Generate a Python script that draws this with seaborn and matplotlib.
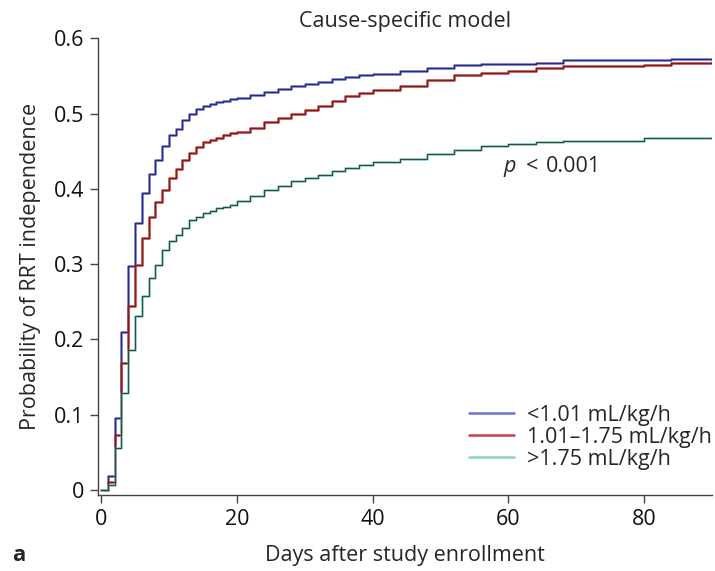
import pandas as pd
import seaborn as sns
import matplotlib.pyplot as plt

# Days after enrollment (step points) and cumulative probability per group
days = list(range(0, 21)) + list(range(22, 41, 2)) + list(range(44, 85, 4)) + [90]

low_uo = [0, 0.018, 0.096, 0.21, 0.297, 0.355, 0.394, 0.42, 0.438, 0.457, 0.471,
          0.48, 0.491, 0.5, 0.506, 0.51, 0.513, 0.515, 0.517, 0.519, 0.521,
          0.525, 0.528, 0.532, 0.536, 0.539, 0.542, 0.546, 0.549, 0.551, 0.553,
          0.557, 0.561, 0.564, 0.566, 0.566, 0.567, 0.571, 0.571, 0.571, 0.571, 0.572, 0.572]
mid_uo = [0, 0.011, 0.073, 0.168, 0.244, 0.299, 0.334, 0.362, 0.383, 0.398, 0.414,
          0.426, 0.438, 0.447, 0.456, 0.462, 0.465, 0.468, 0.471, 0.474, 0.476,
          0.481, 0.489, 0.494, 0.499, 0.505, 0.51, 0.516, 0.523, 0.527, 0.531,
          0.537, 0.545, 0.551, 0.554, 0.557, 0.56, 0.563, 0.563, 0.563, 0.565, 0.567, 0.568]
high_uo = [0, 0.007, 0.055, 0.128, 0.186, 0.231, 0.258, 0.282, 0.299, 0.318, 0.33,
           0.339, 0.348, 0.358, 0.363, 0.368, 0.371, 0.374, 0.376, 0.379, 0.384,
           0.391, 0.398, 0.404, 0.41, 0.414, 0.418, 0.423, 0.428, 0.432, 0.435,
           0.44, 0.446, 0.452, 0.457, 0.46, 0.462, 0.464, 0.464, 0.464, 0.467, 0.468, 0.469]

groups = ["<1.01 mL/kg/h", "1.01\u20131.75 mL/kg/h", ">1.75 mL/kg/h"]

df = pd.concat([
    pd.DataFrame({"day": days, "prob": vals, "group": g})
    for g, vals in zip(groups, [low_uo, mid_uo, high_uo])
])

light = {groups[0]: "#7378d8", groups[1]: "#c44c4c", groups[2]: "#8fd4c8"}
dark = {groups[0]: "#2a2a72", groups[1]: "#7a1e1e", groups[2]: "#2e4a42"}

sns.set_style("ticks")
plt.rcParams["font.family"] = ["Open Sans", "DejaVu Sans"]
fs = 15.5

fig = plt.figure(figsize=(7.15, 5.71), dpi=100)
ax = fig.add_axes([0.137, 0.133, 0.859, 0.8])

# light coloured halo + darker core, like the original rendering
sns.lineplot(data=df, x="day", y="prob", hue="group", palette=light,
             drawstyle="steps-post", linewidth=1.9, ax=ax, legend=True)
sns.lineplot(data=df, x="day", y="prob", hue="group", palette=dark,
             drawstyle="steps-post", linewidth=0.8, ax=ax, legend=False)

ax.set_xlim(-0.45, 90)
ax.set_ylim(-0.007, 0.6)
ax.set_xticks([0, 20, 40, 60, 80])
ax.set_yticks([0, 0.1, 0.2, 0.3, 0.4, 0.5, 0.6])
ax.set_yticklabels(["0", "0.1", "0.2", "0.3", "0.4", "0.5", "0.6"])
ax.tick_params(labelsize=fs, length=6, width=1, pad=4, color="#444444", labelcolor="#111111")
sns.despine(ax=ax)
for s in ["left", "bottom"]:
    ax.spines[s].set_color("#444444")
    ax.spines[s].set_linewidth(1)

ax.set_xlabel("Days after study enrollment", fontsize=fs, labelpad=11)
ax.set_ylabel("Probability of RRT independence", fontsize=fs, labelpad=9)
ax.set_title("Cause-specific model", fontsize=fs, pad=8)

ax.text(59.3, 0.43, "p", fontsize=fs, style="italic", va="center")
ax.text(62.5, 0.43, "<", fontsize=fs, va="center")
ax.text(65.5, 0.43, "0.001", fontsize=fs, va="center")

fig.text(0.017, 0.017, "a", fontsize=16, fontweight="bold")

ax.legend(frameon=False, loc="lower right", bbox_to_anchor=(1.0, 0.055),
          fontsize=fs, handlelength=2.1, handletextpad=0.6, labelspacing=0.05,
          borderaxespad=0, borderpad=0)

fig.savefig("out.png", dpi=100)
